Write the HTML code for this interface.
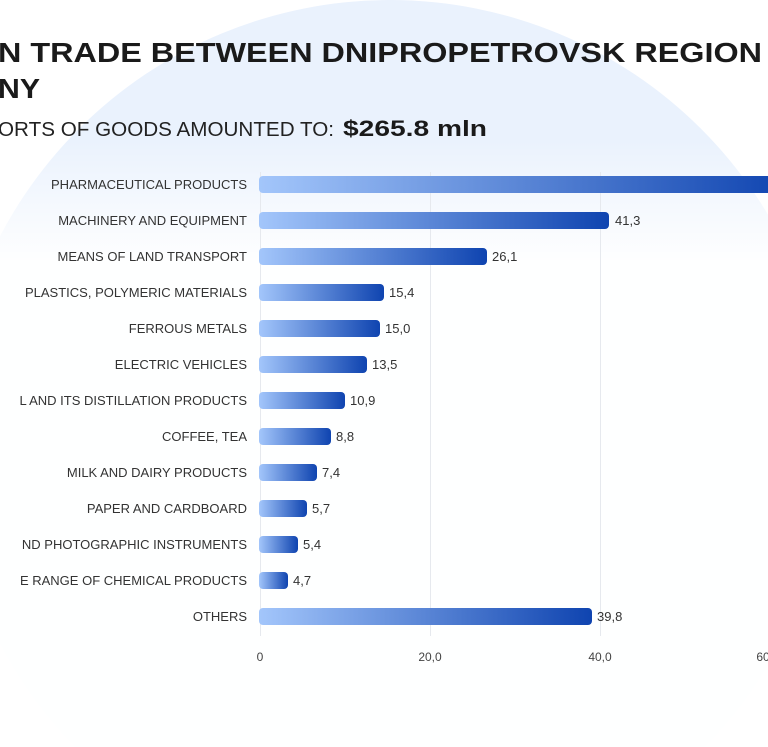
<!DOCTYPE html>
<html><head><meta charset="utf-8"><style>
html,body{margin:0;padding:0;background:#fff;width:768px;height:747px;overflow:hidden;}
svg{display:block;font-family:"Liberation Sans",sans-serif;}
</style></head><body>
<svg width="768" height="747" viewBox="0 0 768 747" xmlns="http://www.w3.org/2000/svg">
<defs>
<linearGradient id="bar" x1="0" x2="1" y1="0" y2="0">
<stop offset="0" stop-color="#a3c6fb"/><stop offset="1" stop-color="#0f44b0"/>
</linearGradient>
<linearGradient id="fade" x1="0" x2="0" y1="0" y2="1">
<stop offset="0" stop-color="#fff" stop-opacity="0"/><stop offset="1" stop-color="#fff" stop-opacity="0.95"/>
</linearGradient>
</defs>
<rect width="768" height="747" fill="#fff"/>
<circle cx="390" cy="440" r="440" fill="#eaf2fd"/>
<rect x="0" y="140" width="768" height="120" fill="url(#fade)"/>
<rect x="0" y="260" width="768" height="487" fill="#fff" opacity="0.95"/>

<text x="-2" y="62" font-size="28" font-weight="bold" fill="#1a1a1a" textLength="764" lengthAdjust="spacingAndGlyphs">N TRADE BETWEEN DNIPROPETROVSK REGION</text>
<text x="-2" y="98" font-size="28" font-weight="bold" fill="#1a1a1a" textLength="42" lengthAdjust="spacingAndGlyphs">NY</text>
<text x="-2" y="136" font-size="20" fill="#222" textLength="336" lengthAdjust="spacingAndGlyphs">ORTS OF GOODS AMOUNTED TO:</text>
<text x="343" y="136" font-size="22" font-weight="bold" fill="#1a1a1a" textLength="144" lengthAdjust="spacingAndGlyphs">$265.8  mln</text>

<g stroke="#e6e9ee" stroke-width="1">
<line x1="260.5" y1="172" x2="260.5" y2="636"/>
<line x1="430.5" y1="172" x2="430.5" y2="636"/>
<line x1="600.5" y1="172" x2="600.5" y2="636"/>
</g>
<g font-size="12" fill="#444" text-anchor="middle">
<text x="260" y="661">0</text><text x="430" y="661">20,0</text><text x="600" y="661">40,0</text><text x="768" y="661">60,0</text>
</g>

<g font-size="13" fill="#333" text-anchor="end">
<text x="247" y="189">PHARMACEUTICAL PRODUCTS</text>
<text x="247" y="225">MACHINERY AND EQUIPMENT</text>
<text x="247" y="261">MEANS OF LAND TRANSPORT</text>
<text x="247" y="297">PLASTICS, POLYMERIC MATERIALS</text>
<text x="247" y="333">FERROUS METALS</text>
<text x="247" y="369">ELECTRIC VEHICLES</text>
<text x="247" y="405">L AND ITS DISTILLATION PRODUCTS</text>
<text x="247" y="441">COFFEE, TEA</text>
<text x="247" y="477">MILK AND DAIRY PRODUCTS</text>
<text x="247" y="513">PAPER AND CARDBOARD</text>
<text x="247" y="549">ND PHOTOGRAPHIC INSTRUMENTS</text>
<text x="247" y="585">E RANGE OF CHEMICAL PRODUCTS</text>
<text x="247" y="621">OTHERS</text>
</g>

<g fill="url(#bar)">
<rect x="259" y="176" width="530" height="17" rx="4"/>
<rect x="259" y="212" width="350" height="17" rx="4"/>
<rect x="259" y="248" width="228" height="17" rx="4"/>
<rect x="259" y="284" width="125" height="17" rx="4"/>
<rect x="259" y="320" width="121" height="17" rx="4"/>
<rect x="259" y="356" width="108" height="17" rx="4"/>
<rect x="259" y="392" width="86" height="17" rx="4"/>
<rect x="259" y="428" width="72" height="17" rx="4"/>
<rect x="259" y="464" width="58" height="17" rx="4"/>
<rect x="259" y="500" width="48" height="17" rx="4"/>
<rect x="259" y="536" width="39" height="17" rx="4"/>
<rect x="259" y="572" width="29" height="17" rx="4"/>
<rect x="259" y="608" width="333" height="17" rx="4"/>
</g>

<g font-size="13" fill="#333">
<text x="615" y="225">41,3</text>
<text x="492" y="261">26,1</text>
<text x="389" y="297">15,4</text>
<text x="385" y="333">15,0</text>
<text x="372" y="369">13,5</text>
<text x="350" y="405">10,9</text>
<text x="336" y="441">8,8</text>
<text x="322" y="477">7,4</text>
<text x="312" y="513">5,7</text>
<text x="303" y="549">5,4</text>
<text x="293" y="585">4,7</text>
<text x="597" y="621">39,8</text>
</g>
</svg>
</body></html>
